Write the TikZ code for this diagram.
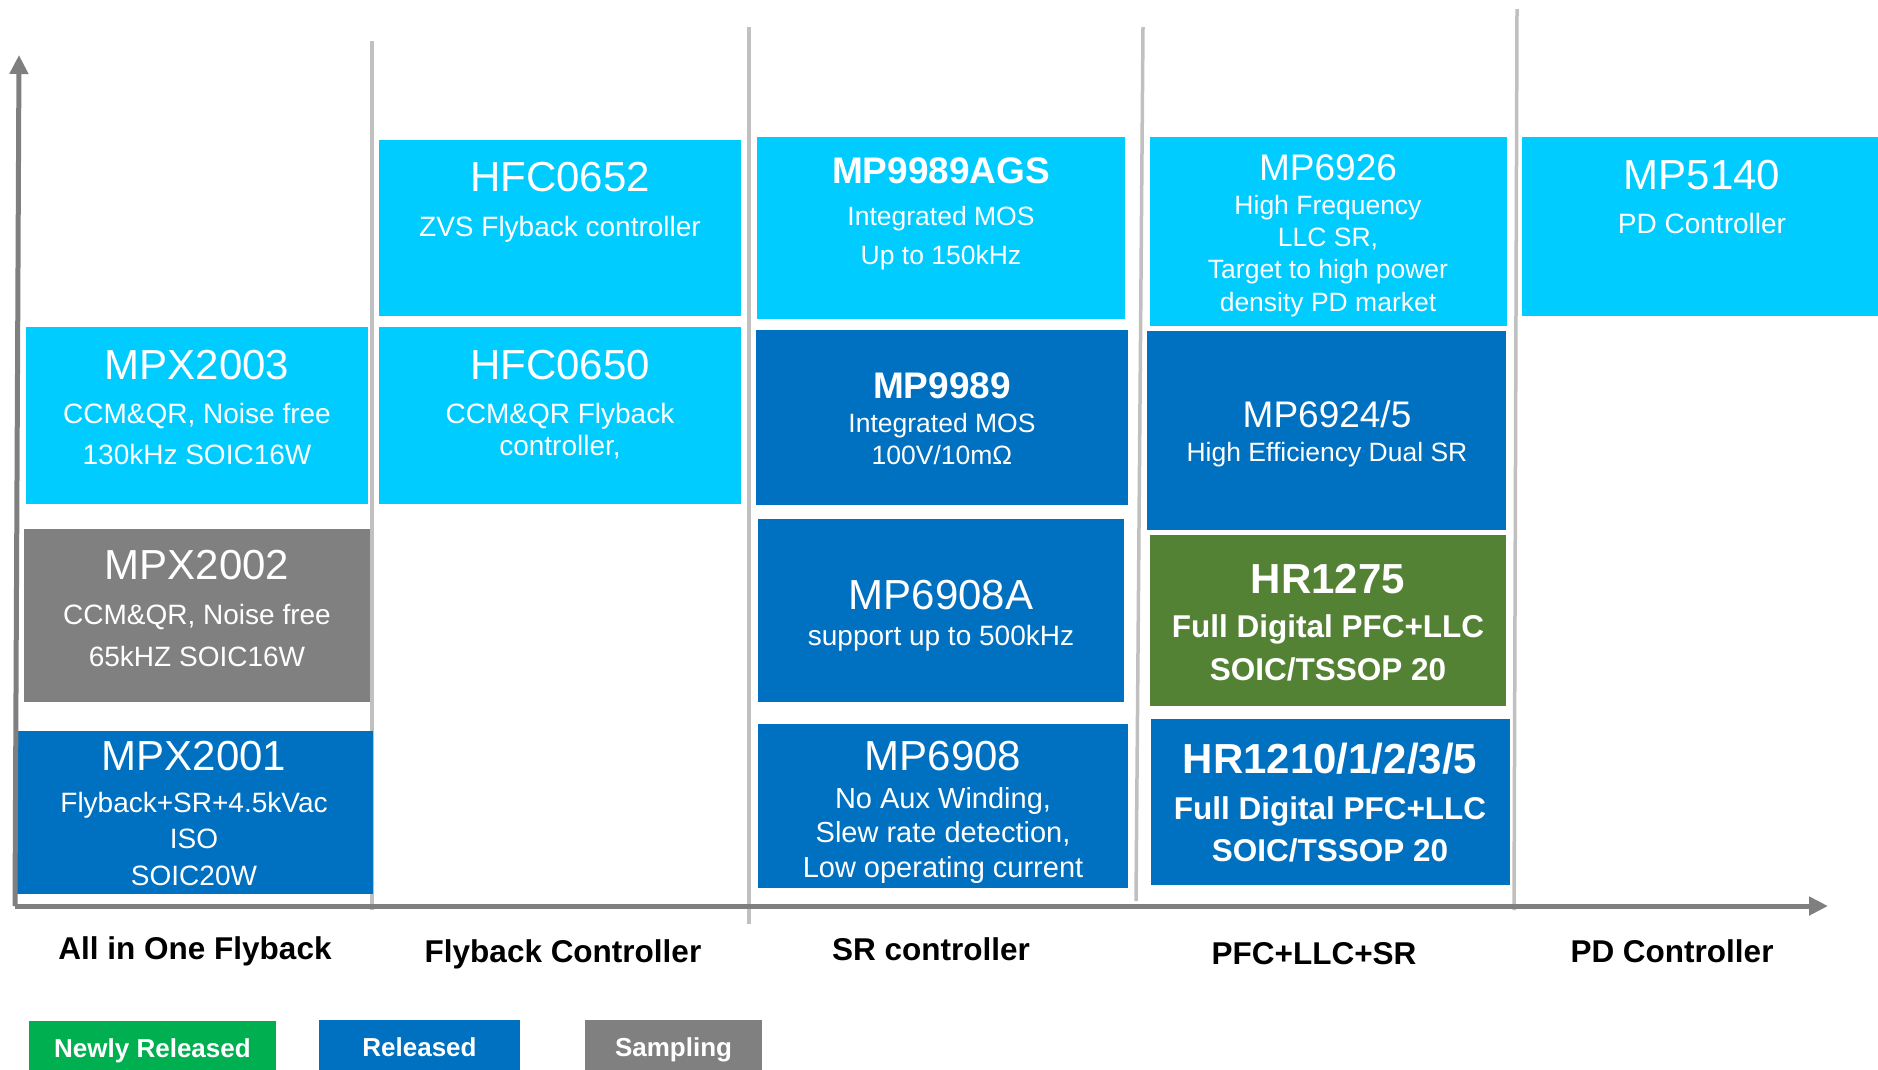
\documentclass[tikz,border=0pt]{standalone}
\usepackage{fontspec}
\setmainfont{Liberation Sans}
\usetikzlibrary{arrows.meta}
\definecolor{mpcyan}{HTML}{00CCFF}
\definecolor{mpblue}{HTML}{0070C0}
\definecolor{mpgray}{HTML}{808080}
\definecolor{mpgreen}{HTML}{548235}
\definecolor{newgreen}{HTML}{00B050}
\definecolor{axisgray}{HTML}{7F7F7F}
\definecolor{sepgray}{HTML}{C0C0C0}
\newcommand{\fsz}[2]{\fontsize{#1}{#2}\selectfont}

\begin{document}
\begin{tikzpicture}[x=1pt,y=-1pt,
	blk/.style={inner sep=0pt,outer sep=0pt,anchor=north west},
	ttl/.style={text=white,anchor=base,inner sep=0pt,font=\fsz{42}{50}},
	sttl/.style={text=white,anchor=base,inner sep=0pt,font=\fsz{37}{44}},
	sub/.style={text=white,anchor=base,inner sep=0pt,align=center},
	cat/.style={anchor=base,inner sep=0pt,font=\bfseries\fsz{31.5}{38}},
	legend/.style={blk,text=white,font=\bfseries\fsz{26}{31},text height=18.6pt,text depth=0pt},
	axis/.style={draw=axisgray,line width=5pt,-{Triangle[length=19pt,width=18pt]}},
	sep/.style={draw=sepgray,line width=3.5pt}]
	\useasboundingbox (0,0) rectangle (1878,1069);
	% column separators
	\coordinate (s1t) at (372,41);   \coordinate (s1b) at (372,910);
	\coordinate (s2t) at (749,27);   \coordinate (s2b) at (749,924);
	\coordinate (s3t) at (1143,27);  \coordinate (s3b) at (1136,901);
	\coordinate (s4t) at (1517,9);   \coordinate (s4b) at (1514,910);
	\draw[sep] (s1t) -- (s1b);
	\draw[sep] (s2t) -- (s2b);
	\draw[sep] (s3t) -- (s3b);
	\draw[sep] (s4t) -- (s4b);
	% All in One Flyback (sub texts sit on the baseline of their last line)
	\node[blk,fill=mpcyan,minimum width=342pt,minimum height=177pt](mpx2003) at (26,327){};
	\node[ttl](mpx2003t) at (197,379){MPX2003};
	\node[sub,font=\fsz{28}{41}](mpx2003s) at (197,464){CCM\&QR, Noise free\\130kHz SOIC16W};
	\node[blk,fill=mpgray,minimum width=346pt,minimum height=173pt](mpx2002) at (24,529){};
	\node[ttl](mpx2002t) at (197,579){MPX2002};
	\node[sub,font=\fsz{28}{42}](mpx2002s) at (197,666){CCM\&QR, Noise free\\65kHZ SOIC16W};
	\node[blk,fill=mpblue,minimum width=356pt,minimum height=163pt](mpx2001) at (17,731){};
	\node[ttl](mpx2001t) at (194,770){MPX2001};
	\node[sub,font=\fsz{28}{36.5}](mpx2001s) at (194,885){Flyback+SR+4.5kVac\\ISO\\SOIC20W};
	% Flyback Controller
	\node[blk,fill=mpcyan,minimum width=362pt,minimum height=176pt](hfc0652) at (379,140){};
	\node[ttl](hfc0652t) at (560,191){HFC0652};
	\node[sub,font=\fsz{28}{34}](hfc0652s) at (560,236){ZVS Flyback controller};
	\node[blk,fill=mpcyan,minimum width=362pt,minimum height=177pt](hfc0650) at (379,327){};
	\node[ttl](hfc0650t) at (560,379){HFC0650};
	\node[sub,font=\fsz{28}{32}](hfc0650s) at (560,455){CCM\&QR Flyback\\controller,};
	% SR controller
	\node[blk,fill=mpcyan,minimum width=368pt,minimum height=182pt](mp9989ags) at (757,137){};
	\node[sttl,font=\bfseries\fsz{37}{44}](mp9989agst) at (941,183){MP9989AGS};
	\node[sub,font=\fsz{26.5}{39}](mp9989agss) at (941,264){Integrated MOS\\Up to 150kHz};
	\node[blk,fill=mpblue,minimum width=372pt,minimum height=175pt](mp9989) at (756,330){};
	\node[sttl,font=\bfseries\fsz{37}{44}](mp9989t) at (942,398){MP9989};
	\node[sub,font=\fsz{26.5}{32}](mp9989s) at (942,464){Integrated MOS\\100V/10mΩ};
	\node[blk,fill=mpblue,minimum width=366pt,minimum height=183pt](mp6908a) at (758,519){};
	\node[ttl](mp6908at) at (941,609){MP6908A};
	\node[sub,font=\fsz{28}{34}](mp6908as) at (941,645){support up to 500kHz};
	\node[blk,fill=mpblue,minimum width=370pt,minimum height=164pt](mp6908) at (758,724){};
	\node[ttl](mp6908t) at (943,770){MP6908};
	\node[sub,font=\fsz{29}{34.5}](mp6908s) at (943,877){No Aux Winding,\\Slew rate detection,\\Low operating current};
	% PFC+LLC+SR
	\node[blk,fill=mpcyan,minimum width=357pt,minimum height=189pt](mp6926) at (1150,137){};
	\node[sttl](mp6926t) at (1328,180){MP6926};
	\node[sub,font=\fsz{26.5}{32.3}](mp6926s) at (1328,311){High Frequency\\LLC SR,\\Target to high power\\density PD market};
	\node[blk,fill=mpblue,minimum width=359pt,minimum height=199pt](mp6924) at (1147,331){};
	\node[sttl](mp6924t) at (1327,427){MP6924/5};
	\node[sub,font=\fsz{26.5}{32}](mp6924s) at (1327,461){High Efficiency Dual SR};
	\node[blk,fill=mpgreen,minimum width=356pt,minimum height=171pt](hr1275) at (1150,535){};
	\node[ttl,font=\bfseries\fsz{42}{50}](hr1275t) at (1328,593){HR1275};
	\node[sub,font=\bfseries\fsz{31.5}{43}](hr1275s) at (1328,680){Full Digital PFC+LLC\\SOIC/TSSOP 20};
	\node[blk,fill=mpblue,minimum width=359pt,minimum height=166pt](hr1210) at (1151,719){};
	\node[ttl,font=\bfseries\fsz{42}{50}](hr1210t) at (1330,773){HR1210/1/2/3/5};
	\node[sub,font=\bfseries\fsz{31.5}{42}](hr1210s) at (1330,861){Full Digital PFC+LLC\\SOIC/TSSOP 20};
	% PD Controller
	\node[blk,fill=mpcyan,minimum width=360pt,minimum height=179pt](mp5140) at (1522,137){};
	\node[ttl](mp5140t) at (1702,189){MP5140};
	\node[sub,font=\fsz{28}{34}](mp5140s) at (1702,233){PD Controller};
	% axes
	\coordinate (o) at (15,906);
	\coordinate (ytip) at (19,55);
	\coordinate (xtip) at (1828,906);
	\draw[axis] (o) -- (ytip);
	\draw[axis] (o) -- (xtip);
	% categories
	\node[cat](aio) at (195,959){All in One Flyback};
	\node[cat](fbc) at (563,962){Flyback Controller};
	\node[cat](src) at (931,960){SR controller};
	\node[cat](pfc) at (1314,964){PFC+LLC+SR};
	\node[cat](pdc) at (1672,962){PD Controller};
	% legend
	\node[legend,fill=newgreen,minimum width=247pt,minimum height=54pt](newrel) at (29,1021){Newly Released};
	\node[legend,fill=mpblue,minimum width=201pt,minimum height=55pt](rel) at (319,1020){Released};
	\node[legend,fill=mpgray,minimum width=177pt,minimum height=55pt](samp) at (585,1020){Sampling};
\end{tikzpicture}
\end{document}
